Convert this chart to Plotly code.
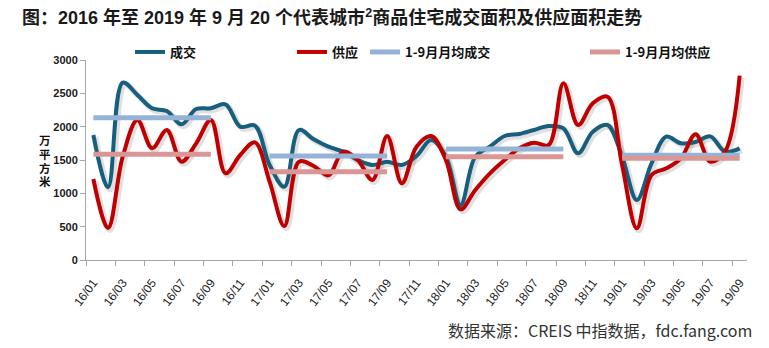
import plotly.graph_objects as go

months = [f"{y:02d}/{m:02d}" for y in range(16, 20) for m in range(1, 13)][:45]

deal = [1875, 1090, 2660, 2475, 2275, 2235, 2035, 2265, 2275,
        2335, 2000, 2015,
        1425, 1100, 1950, 1810, 1700, 1625, 1500, 1425, 1475,
        1425, 1560, 1800,
        1550, 825, 1550, 1700, 1860, 1890, 1950, 2010, 1975,
        1600, 1925, 2025,
        1550, 900, 1450, 1850, 1750, 1770, 1855, 1625, 1675]

supply = [1215, 480, 1550, 2100, 1675, 1950, 1475, 1750, 2100,
          1300, 1575, 1765,
          1175, 510, 1475, 1410, 1270, 1625, 1500, 1200, 1860,
          1150, 1700, 1860,
          1500, 760, 1050, 1300, 1500, 1675, 1760, 1725, 2650,
          2025, 2350, 2450,
          1420, 475, 1275, 1375, 1525, 1885, 1475, 1625, 2765]

avg_deal = [2135, 1560, 1665, 1570]
avg_supply = [1585, 1325, 1550, 1525]
avg_start = ["16/01", "17/01", "18/01", "19/01"]
avg_end = ["16/09", "17/09", "18/09", "19/09"]

y_title = "万平方米"

idx = {m: i for i, m in enumerate(months)}
xs = list(range(len(months)))


def seg(vals):
    x, y = [], []
    for s, e, v in zip(avg_start, avg_end, vals):
        x += [idx[s], idx[e], None]
        y += [v, v, None]
    return x, y


C_DEAL = "#17607D"
C_SUP = "#C00000"
C_AD = "#95B3D7"
C_AS = "#DA9694"
C_SHADOW = "rgba(60,60,60,0.16)"

W, H = 769, 348
L, R, T, B = 86, 22, 60, 88
PW, PH = W - L - R, H - T - B
XR = [-0.5, 44.5]
YR = [0, 3000]
# shadow offset (pixels) expressed via shifted ranges of the hidden base axes
dx = 2 * (XR[1] - XR[0]) / PW
dy = 2 * (YR[1] - YR[0]) / PH

FONT = "Liberation Sans, Noto Sans CJK SC, sans-serif"
CJK = "Noto Sans CJK SC, Liberation Sans, sans-serif"

fig = go.Figure()
# soft drop shadows (base axes, drawn underneath)
for vals in (deal, supply):
    fig.add_trace(go.Scatter(x=xs, y=vals, mode="lines", showlegend=False, hoverinfo="skip",
                             line=dict(color=C_SHADOW, width=6, shape="spline", smoothing=1),
                             xaxis="x", yaxis="y"))

fig.add_trace(go.Scatter(x=xs, y=deal, name="成交", mode="lines",
                         line=dict(color=C_DEAL, width=4, shape="spline", smoothing=1),
                         legend="legend", xaxis="x2", yaxis="y2"))
fig.add_trace(go.Scatter(x=xs, y=supply, name="供应", mode="lines",
                         line=dict(color=C_SUP, width=4, shape="spline", smoothing=1),
                         legend="legend", xaxis="x2", yaxis="y2"))
ax, ay = seg(avg_deal)
fig.add_trace(go.Scatter(x=ax, y=ay, name="1-9月月均成交", mode="lines",
                         line=dict(color=C_AD, width=5), legend="legend2",
                         xaxis="x2", yaxis="y2"))
ax, ay = seg(avg_supply)
fig.add_trace(go.Scatter(x=ax, y=ay, name="1-9月月均供应", mode="lines",
                         line=dict(color=C_AS, width=5), legend="legend2",
                         xaxis="x2", yaxis="y2"))

fig.update_layout(
    width=W, height=H,
    margin=dict(l=L, r=R, t=T, b=B, autoexpand=False),
    paper_bgcolor="white", plot_bgcolor="white",
    font=dict(family=FONT, color="#1a1a1a"),
    title=dict(text="图：2016 年至 2019 年 9 月 20 个代表城市<sup>2</sup>商品住宅成交面积及供应面积走势",
               x=22 / W, xanchor="left", xref="container",
               y=1 - 18 / H, yanchor="middle", yref="container",
               font=dict(family=FONT, size=18, weight="bold", color="#1a1a1a")),
    legend=dict(orientation="h", xref="container", yref="container",
                x=130 / W, xanchor="left", y=1 - 52 / H, yanchor="middle",
                entrywidth=117, entrywidthmode="pixels",
                font=dict(family=CJK, size=13, weight="bold", color="#111"),
                bgcolor="rgba(0,0,0,0)", itemwidth=30),
    legend2=dict(orientation="h", xref="container", yref="container",
                 x=365 / W, xanchor="left", y=1 - 52 / H, yanchor="middle",
                 entrywidth=175, entrywidthmode="pixels",
                 font=dict(family=CJK, size=13, weight="bold", color="#111"),
                 bgcolor="rgba(0,0,0,0)", itemwidth=30),
    showlegend=True,
    xaxis=dict(range=[XR[0] - dx, XR[1] - dx], visible=False, fixedrange=True),
    yaxis=dict(range=[YR[0] + dy, YR[1] + dy], visible=False, fixedrange=True),
    xaxis2=dict(
        overlaying="x", side="bottom", anchor="y2",
        range=XR, showgrid=False, zeroline=False,
        showline=True, linecolor="#A6A6A6", linewidth=1,
        tickmode="array", tickvals=xs[::2], ticktext=months[::2],
        ticks="", tickangle=-53, automargin=False, ticklabelstandoff=10,
        tickfont=dict(family=FONT, size=12, color="#222"),
        minor=dict(tickmode="array", tickvals=[i - 0.5 for i in xs[::2]],
                   ticks="outside", ticklen=5, tickcolor="#A6A6A6", tickwidth=1),
    ),
    yaxis2=dict(
        overlaying="y", side="left", anchor="x2",
        range=YR, dtick=500, showgrid=False, zeroline=False,
        showline=True, linecolor="#A6A6A6", linewidth=1,
        ticks="outside", ticklen=5, tickcolor="#A6A6A6", automargin=False,
        tickfont=dict(family=FONT, size=11, weight="bold", color="#1a1a1a"),
    ),
)

# vertical stacked axis title
for k, ch in enumerate(y_title):
    py = 141 + 13.5 * k
    fig.add_annotation(text=ch, xref="paper", yref="paper",
                       x=(38 - L) / PW, y=(H - B - py) / PH, yanchor="middle",
                       showarrow=False, borderpad=0,
                       font=dict(family=FONT, size=11.5, weight="bold", color="#111"))

fig.add_annotation(text="数据来源：CREIS 中指数据，fdc.fang.com", xref="paper", yref="paper",
                   x=(754 - L) / PW, xanchor="right",
                   y=(H - B - 330) / PH, yanchor="middle", showarrow=False,
                   font=dict(family=CJK, size=16, color="#333"))

fig.write_html("out.html")
